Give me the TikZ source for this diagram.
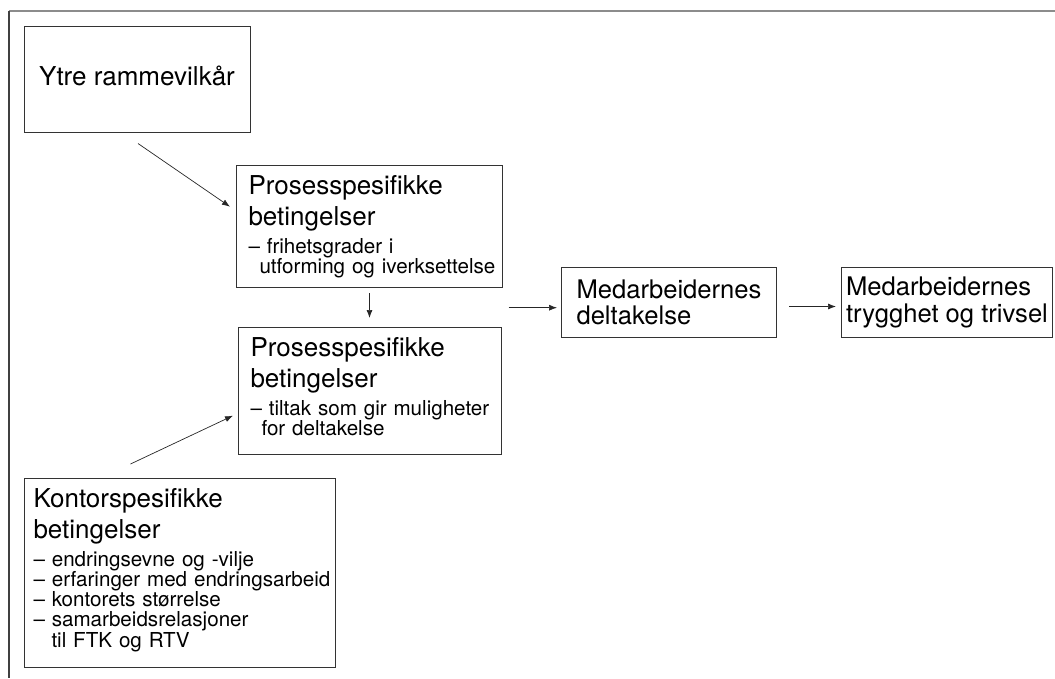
\documentclass[tikz,border=0pt]{standalone}
\usepackage{fontspec}
\setmainfont{TeX Gyre Heros}
\usetikzlibrary{positioning,calc,arrows.meta}

\newcommand\headfont{\fontsize{26}{27}\selectfont}
\newcommand\itemfont{\fontsize{20.6}{20.3}\selectfont}
\newcommand\bottomgap[1]{\rule[-#1]{0pt}{#1}}
\setlength\lineskiplimit{-100pt}
\hyphenpenalty=10000
\exhyphenpenalty=10000
\hfuzz=20pt

\begin{document}
\begin{tikzpicture}[
  x=1pt, y=-1pt,
  box/.style={draw=black!80, line width=1pt, anchor=north west, align=left,
    inner xsep=12pt, inner ysep=10pt, font=\itemfont},
  result/.style={draw=black!80, line width=1pt, anchor=north west, align=left,
    inner xsep=4pt, minimum height=70pt, font=\fontsize{25.6}{26.5}\selectfont},
  link/.style={-{Latex[length=8pt,width=6pt]}, line width=0.7pt, black!85},
]
\useasboundingbox (0,0) rectangle (1055,678);

% Frame
\draw[black!45, line width=2pt] (9,11) -- (1055,11);
\draw[black!75, line width=1.1pt] (9,11) -- (9,678);

% Outer conditions
\node[draw=black!80, line width=1pt, minimum width=226pt, minimum height=106pt,
  font=\headfont, text depth=7pt] (ytre) at (137,79) {Ytre rammevilkår};

% Process specific conditions
\node[box, text width=242pt] (pro1) at (236,165)
  {{\headfont Prosesspesifikke}\\[5.6pt]{\headfont betingelser}\\[5.6pt]%
   –~frihetsgrader~i\\\hspace*{11pt}utforming~og~iverksettelse};
\node[box, text width=239pt] (pro2) at (238,327)
  {{\headfont Prosesspesifikke}\\[5.6pt]{\headfont betingelser}\\[5.6pt]%
   –~tiltak~som~gir~muligheter\\\hspace*{11pt}for~deltakelse\bottomgap{9.5pt}};

% Office specific conditions
\node[box, inner xsep=9pt, text width=293pt] (kontor) at (24,478)
  {{\headfont Kontorspesifikke}\\[5.6pt]{\headfont betingelser}\\[5.6pt]%
   –~endringsevne~og~-vilje\\
   –~erfaringer~med~endringsarbeid\\
   –~kontorets~størrelse\\
   –~samarbeidsrelasjoner\\
   \hspace*{18pt}til~FTK~og~RTV\bottomgap{10.5pt}};

% Outcomes
\node[result, minimum width=215pt] (med) at (561,267) {Medarbeidernes\\deltakelse};
\node[result, minimum width=211pt] (tryg) at (841,267) {Medarbeidernes\\trygghet og trivsel};

% Arrows
\coordinate (join) at ($(pro1.south east)!0.5!(pro2.north east)+(6,0)$);
\draw[link] ($(ytre.south)+(1,11)$) -- ($(pro1.west)+(-6,-20)$);
\draw[link, shorten <=5pt, shorten >=9pt] (pro1.south) -- (pro1.south |- pro2.north);
\draw[link] ($(kontor.north)+(-49.5,-14)$) -- ($(pro2.west)+(-5,24.5)$);
\draw[link, shorten >=4pt] (join) -- (join -| med.west);
\draw[link, shorten <=12pt, shorten >=5pt] ($(med.east)+(0,4)$) -- ($(tryg.west)+(0,4)$);

\end{tikzpicture}
\end{document}
